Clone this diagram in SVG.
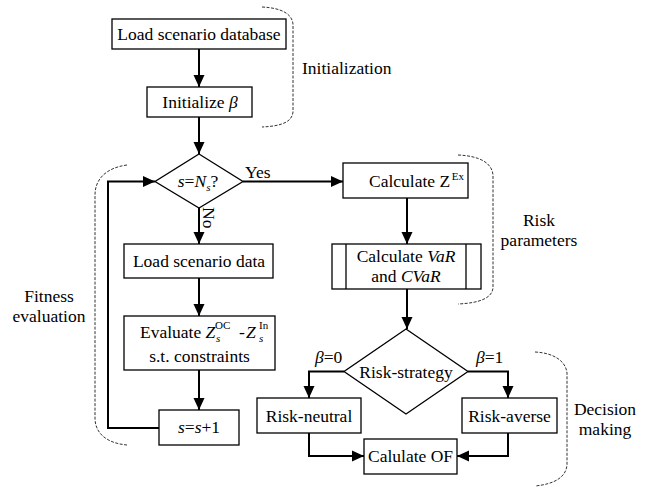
<svg xmlns="http://www.w3.org/2000/svg" width="651" height="487" viewBox="0 0 651 487">
<defs>
<style>
.box{fill:#fff;stroke:#000;stroke-width:1.3}
.t{font-family:'Liberation Serif','Times New Roman',serif;font-size:17.5px;fill:#000}
.m{text-anchor:middle}
.i{font-style:italic}
.sm{font-size:11px}
.con{fill:none;stroke:#000;stroke-width:2}
.brace{fill:none;stroke:#333;stroke-width:1;stroke-dasharray:3 1.5}
</style>
<marker id="ah" viewBox="0 0 12 12" refX="12" refY="6" markerWidth="12" markerHeight="12" markerUnits="userSpaceOnUse" orient="auto">
<path d="M0,0.5 L12,6 L0,11.5 z" fill="#000"/>
</marker>
</defs>
<rect width="651" height="487" fill="#fff"/>

<g id="connectors">
<path class="con" d="M199,49 V87" marker-end="url(#ah)"/>
<path class="con" d="M199,117 V154" marker-end="url(#ah)"/>
<path class="con" d="M243,181.5 H343" marker-end="url(#ah)"/>
<path class="con" d="M199,208 V244" marker-end="url(#ah)"/>
<path class="con" d="M199,278 V316" marker-end="url(#ah)"/>
<path class="con" d="M199,370 V410" marker-end="url(#ah)"/>
<path class="con" d="M159,428 H108 V181.5 H155" marker-end="url(#ah)"/>
<path class="con" d="M407,198 V244" marker-end="url(#ah)"/>
<path class="con" d="M407,289 V329" marker-end="url(#ah)"/>
<path class="con" d="M344,371.5 H309 V398" marker-end="url(#ah)"/>
<path class="con" d="M468,371.5 H508 V398" marker-end="url(#ah)"/>
<path class="con" d="M309,433 V456 H364" marker-end="url(#ah)"/>
<path class="con" d="M508,433 V456 H457" marker-end="url(#ah)"/>
<text class="t" x="245" y="178">Yes</text>
<text class="t" transform="translate(203,207) rotate(90)">No</text>
<text class="t" x="315" y="363"><tspan class="i">β</tspan>=0</text>
<text class="t" x="476" y="363"><tspan class="i">β</tspan>=1</text>
</g>

<g id="braces">
<path class="brace" d="M262,7 C282,8 292,14 293,24 V112 C292,122 282,126 262,127"/>
<path class="brace" d="M127,165 C105,168 95,180 95,195 V418 C95,432 105,443 127,445"/>
<path class="brace" d="M458,155 C480,156 492,163 493,175 V288 C492,298 480,303 458,304"/>
<path class="brace" d="M535,352 C555,353 566,362 567,373 V465 C566,477 555,484 535,486"/>
<text class="t" x="302" y="74">Initialization</text>
<text class="t m" x="49" y="302">Fitness</text>
<text class="t m" x="49" y="322">evaluation</text>
<text class="t m" x="539" y="226">Risk</text>
<text class="t m" x="539" y="246">parameters</text>
<text class="t m" x="605" y="415">Decision</text>
<text class="t m" x="605" y="435">making</text>
</g>

<g id="load-db">
<rect class="box" x="112" y="19" width="174" height="30"/>
<text class="t m" x="199" y="40">Load scenario database</text>
</g>

<g id="init-beta">
<rect class="box" x="147" y="87" width="105" height="30"/>
<text class="t m" x="200" y="108">Initialize <tspan class="i">β</tspan></text>
</g>

<g id="decision-s">
<polygon class="box" points="199,154 243,181.5 199,208 155,181.5"/>
<text class="t m" x="198" y="187"><tspan class="i">s</tspan>=<tspan class="i">N</tspan><tspan class="sm i" dy="4">s</tspan><tspan dy="-4">?</tspan></text>
</g>

<g id="load-data">
<rect class="box" x="124" y="244" width="149" height="34"/>
<text class="t m" x="199" y="267">Load scenario data</text>
</g>

<g id="evaluate">
<rect class="box" x="124" y="316" width="151" height="54"/>
<text class="t" x="140" y="338">Evaluate <tspan class="i">Z</tspan></text>
<text class="t sm" x="215" y="329">OC</text>
<text class="t sm i" x="216" y="342">s</text>
<text class="t" x="239" y="338">-</text>
<text class="t i" x="246" y="338">Z</text>
<text class="t sm" x="259" y="329">In</text>
<text class="t sm i" x="259" y="342">s</text>
<text class="t m" x="199.5" y="362">s.t. constraints</text>
</g>

<g id="increment">
<rect class="box" x="159" y="410" width="80" height="35"/>
<text class="t m" x="199" y="433"><tspan class="i">s</tspan>=<tspan class="i">s</tspan>+1</text>
</g>

<g id="calc-zex">
<rect class="box" x="343" y="163" width="125" height="35"/>
<text class="t" x="369" y="187">Calculate Z<tspan class="sm" dx="1.5" dy="-7">Ex</tspan></text>
</g>

<g id="calc-var">
<rect class="box" x="332" y="244" width="149" height="45"/>
<line class="box" x1="346" y1="244" x2="346" y2="289"/>
<line class="box" x1="466" y1="244" x2="466" y2="289"/>
<text class="t m" x="406" y="262">Calculate <tspan class="i">VaR</tspan></text>
<text class="t m" x="406" y="282">and <tspan class="i">CVaR</tspan></text>
</g>

<g id="risk-strategy">
<polygon class="box" points="406,329 468,371.5 406,414 344,371.5"/>
<text class="t m" x="406" y="378">Risk-strategy</text>
</g>

<g id="risk-neutral">
<rect class="box" x="257" y="398" width="104" height="35"/>
<text class="t m" x="309" y="422">Risk-neutral</text>
</g>

<g id="risk-averse">
<rect class="box" x="462" y="398" width="95" height="35"/>
<text class="t m" x="509.5" y="422">Risk-averse</text>
</g>

<g id="calc-of">
<rect class="box" x="364" y="439" width="93" height="35"/>
<text class="t m" x="410.5" y="462">Calulate OF</text>
</g>
</svg>
